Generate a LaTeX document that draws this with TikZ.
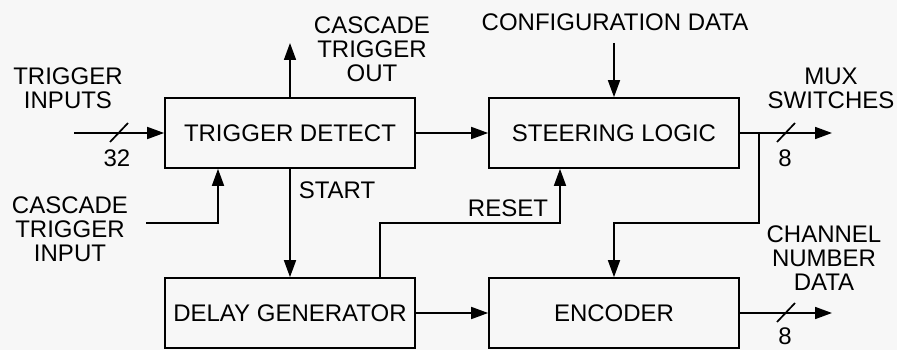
\documentclass[tikz,border=0pt]{standalone}
\usepackage{fontspec}
\setmainfont{Liberation Sans}
\usetikzlibrary{arrows.meta}
\begin{document}
\begin{tikzpicture}[x=1pt,y=-1pt,
  blk/.style={draw,line width=1.7pt,minimum width=250pt,minimum height=70pt,inner sep=0pt,font=\fontsize{24}{24}\selectfont},
  lbl/.style={align=center,inner sep=0pt,font=\fontsize{24}{24}\selectfont},
  arr/.style={line width=1.7pt,-{Triangle[length=17pt,width=12pt]}},
  ln/.style={line width=1.7pt}]
\fill[fill=black!3] (0,0) rectangle (897,350);
\useasboundingbox (0,0) rectangle (897,350);
% blocks
\node[blk] (td) at (290,133) {TRIGGER DETECT};
\node[blk] (sl) at (614,133) {STEERING LOGIC};
\node[blk] (dg) at (290,313) {DELAY GENERATOR};
\node[blk] (enc) at (614,313) {ENCODER};
% labels
\node[lbl] (tinl) at (68,88) {TRIGGER\\INPUTS};
\node[lbl] (ctol) at (372,49) {CASCADE\\TRIGGER\\OUT};
\node[lbl] (ctinl) at (70,229) {CASCADE\\TRIGGER\\INPUT};
\node[lbl] (startl) at (337,190) {START};
\node[lbl] (cfgl) at (615,22) {CONFIGURATION DATA};
\node[lbl] (rstl) at (508,208) {RESET};
\node[lbl] (muxl) at (831,88) {MUX\\SWITCHES};
\node[lbl] (chnl) at (824,258) {CHANNEL\\NUMBER\\DATA};
\node[lbl] (n32) at (117,158) {32};
\node[lbl] (n8a) at (785,158) {8};
\node[lbl] (n8b) at (785,336) {8};
% coordinates
\coordinate (tin) at (74,133);
\coordinate (cto) at (290,43);
\coordinate (ctin) at (146,223);
\coordinate (cfg) at (614,43);
\coordinate (rst) at (560,223);
\coordinate (jn) at (759,133);
\coordinate (bend) at (759,223);
\coordinate (muxout) at (832,133);
\coordinate (chnout) at (832,313);
% connectors
\draw[arr] (tin) -- (td.west);
\draw[arr] (td.north) -- (cto);
\draw[arr] (ctin) -| ([xshift=-72pt]td.south);
\draw[arr] (td.south) -- (dg.north);
\draw[arr] (td.east) -- (sl.west);
\draw[arr] (cfg) -- (sl.north);
\draw[arr] ([xshift=90pt]dg.north) |- (rst) -- ([xshift=-54pt]sl.south);
\draw[arr] (sl.east) -- (muxout);
\draw[arr] (jn) -- (bend) -| (enc.north);
\draw[arr] (dg.east) -- (enc.west);
\draw[arr] (enc.east) -- (chnout);
% bus slashes
\draw[ln] (110,142) -- (128,123);
\draw[ln] (777,142) -- (795,123);
\draw[ln] (777,322) -- (795,303);
\end{tikzpicture}
\end{document}
